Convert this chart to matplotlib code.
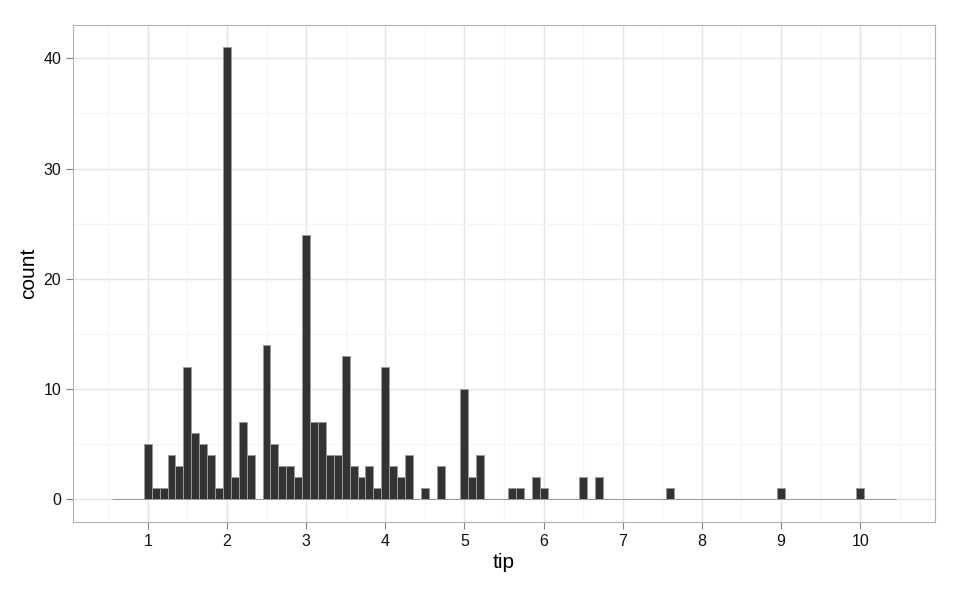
import matplotlib
matplotlib.use("Agg")
import matplotlib.pyplot as plt
import numpy as np

plt.rcParams["font.family"] = ["Liberation Sans", "DejaVu Sans"]

# histogram of tip, binwidth 0.1 (bins centred on 0.6 ... 10.4)
bin_start = 0.6
bin_width = 0.1
counts = [
    0, 0, 0, 0,                             # 0.6 - 0.9
    5, 1, 1, 4, 3, 12, 6, 5, 4, 1,          # 1.0 - 1.9
    41, 2, 7, 4, 0, 14, 5, 3, 3, 2,         # 2.0 - 2.9
    24, 7, 7, 4, 4, 13, 3, 2, 3, 1,         # 3.0 - 3.9
    12, 3, 2, 4, 0, 1, 0, 3, 0, 0,          # 4.0 - 4.9
    10, 2, 4, 0, 0, 0, 1, 1, 0, 2,          # 5.0 - 5.9
    1, 0, 0, 0, 0, 2, 0, 2, 0, 0,           # 6.0 - 6.9
    0, 0, 0, 0, 0, 0, 1, 0, 0, 0,           # 7.0 - 7.9
    0, 0, 0, 0, 0, 0, 0, 0, 0, 0,           # 8.0 - 8.9
    1, 0, 0, 0, 0, 0, 0, 0, 0, 0,           # 9.0 - 9.9
    1, 0, 0, 0, 0,                          # 10.0 - 10.4
]
x_ticks = [1, 2, 3, 4, 5, 6, 7, 8, 9, 10]
y_ticks = [0, 10, 20, 30, 40]

centers = bin_start + bin_width * np.arange(len(counts))

fig = plt.figure(figsize=(9.6, 5.89), dpi=100)
ax = fig.add_axes([0.076, 0.114, 0.898, 0.844])

ax.bar(centers, counts, width=bin_width, color="#333333",
       edgecolor="#9a9a9a", linewidth=0.7, zorder=3)

lo = centers[0] - bin_width / 2
hi = centers[-1] + bin_width / 2
pad = 0.05 * (hi - lo)
ax.set_xlim(lo - pad, hi + pad)
ax.set_ylim(-0.05 * max(counts), 1.05 * max(counts))

ax.set_xticks(x_ticks)
ax.set_yticks(y_ticks)
ax.set_xticks([v + 0.5 for v in x_ticks[:-1]] + [0.5, 10.5], minor=True)
ax.set_yticks([5, 15, 25, 35], minor=True)
ax.grid(which="major", color="#e5e5e5", linewidth=1.0, zorder=0)
ax.grid(which="minor", color="#f5f5f5", linewidth=0.8, zorder=0)
ax.set_axisbelow(True)

ax.tick_params(which="major", length=5, color="#7f7f7f", labelsize=11.5,
               labelcolor="#111111", pad=3.5)
ax.tick_params(which="minor", length=0)
for s in ax.spines.values():
    s.set_color("#b3b3b3")

ax.set_xlabel("tip", fontsize=15, labelpad=3)
ax.set_ylabel("count", fontsize=15, labelpad=4)

fig.savefig("out.png", dpi=100)
